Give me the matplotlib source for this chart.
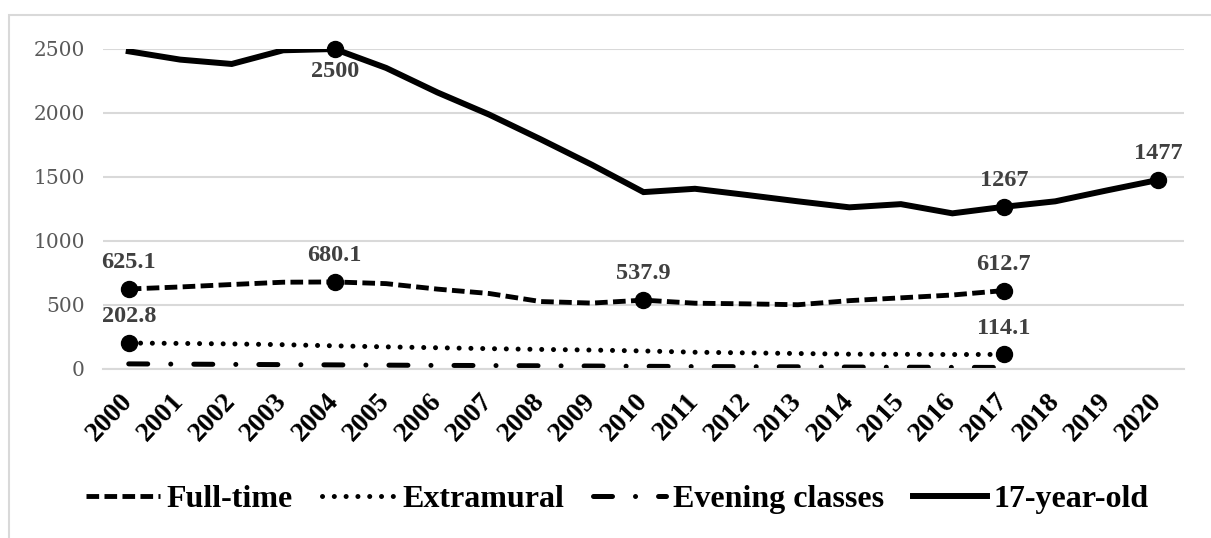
import matplotlib
matplotlib.use("Agg")
from matplotlib import pyplot as plt
from matplotlib.patches import Rectangle

years = [str(y) for y in range(2000, 2021)]

full_time = [625.1, 641, 660, 678, 680.1, 667, 624, 590, 527, 515,
             537.9, 514, 509, 502, 534, 556, 578, 612.7]
extramural = [202.8, 200, 196, 190, 181, 173, 166, 159, 153, 148,
              141, 131, 126, 121, 116, 115, 113, 114.1]
evening = [40, 38, 36, 34, 32, 30, 28, 27, 25, 23,
           21, 19, 18, 17, 15, 14, 13, 12]
age17 = [2482, 2417, 2383, 2490, 2500, 2352, 2160, 1988, 1795, 1595,
         1382, 1408, 1360, 1310, 1263, 1288, 1216, 1267, 1310, 1395, 1477]

# which points get a marker + label
ft_marks = [0, 4, 10, 17]
ex_marks = [0, 17]
a17_marks = [4, 17, 20]

bold = dict(family="Liberation Serif", weight="bold")
lab_col = "#404040"

fig = plt.figure(figsize=(12.11, 5.38), dpi=100)
ax = fig.add_axes([103 / 1211, 1 - 369 / 538, 1081 / 1211, 320 / 538])

x = list(range(len(years)))
n = len(full_time)

l1, = ax.plot(x[:n], full_time, color="black", lw=3.5, dashes=(2.6, 1.1),
              dash_capstyle="butt", label="Full-time")
l2, = ax.plot(x[:n], extramural, color="black", lw=3.6, dashes=(0.01, 2.35),
              dash_capstyle="round", label="Extramural")
l3, = ax.plot(x[:n], evening, color="black", lw=3.6, dashes=(3.8, 4.6, 0.01, 4.6),
              dash_capstyle="round", label="Evening classes")
l4, = ax.plot(x, age17, color="black", lw=4.3, solid_joinstyle="miter",
              label="17-year-old")

for series, marks in [(full_time, ft_marks), (extramural, ex_marks), (age17, a17_marks)]:
    for i in marks:
        ax.plot(x[i], series[i], "o", color="black", ms=11.5, clip_on=False, zorder=5)
        o = 19
        if series is age17 and i == 4:
            o = -16
        ax.annotate(f"{series[i]:g}", (x[i], series[i]), xytext=(0, o),
                    textcoords="offset points", ha="center", va="center",
                    fontsize=17.5, color=lab_col, **bold)

ax.set_xlim(-0.5, len(years) - 0.5)
ax.set_ylim(0, 2500)
ax.set_yticks([0, 500, 1000, 1500, 2000, 2500])
ax.set_xticks(x)
ax.set_xticklabels(years, rotation=47, ha="right", va="center",
                   rotation_mode="anchor", fontsize=20, **bold)
ax.tick_params(axis="x", length=0, pad=20)
ax.tick_params(axis="y", length=0, pad=13, labelsize=14.5, labelcolor="#595959")
for t in ax.get_yticklabels():
    t.set_family("DejaVu Serif")
ax.grid(axis="y", color="#d9d9d9", lw=1.5)
ax.set_axisbelow(True)
for s in ["top", "right", "left"]:
    ax.spines[s].set_visible(False)
ax.spines["bottom"].set_color("#d9d9d9")
ax.spines["bottom"].set_linewidth(1.5)

# outer chart border (only top and left visible in the crop)
fig.patches.append(Rectangle((9 / 1211, -0.1), 1.2, 1.1 - 15 / 538,
                             transform=fig.transFigure, fill=False,
                             edgecolor="#d9d9d9", lw=1.5))

fig.legend(handles=[l1, l2, l3, l4], loc="center", bbox_to_anchor=(0.51, 0.071),
           ncol=4, frameon=False, handlelength=2.3, handletextpad=0.22,
           columnspacing=0.9, prop=dict(size=23, **bold))

fig.savefig("out.png", dpi=100)
